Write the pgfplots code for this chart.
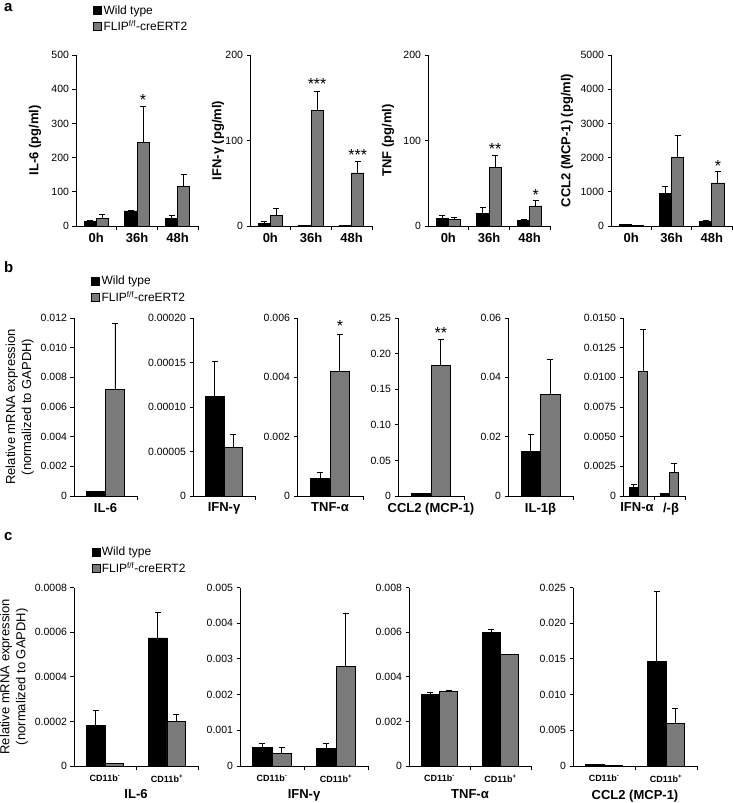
\documentclass[border=0pt]{standalone}
\usepackage{pgfplots}
\pgfplotsset{compat=1.18}
\usepackage{fontspec}
\setmainfont{Liberation Sans}
\definecolor{fgray}{RGB}{122,122,122}
\newcommand{\fs}[1]{\fontsize{#1}{#1}\selectfont}
\tikzset{sig/.style={font=\fs{16}, inner sep=0pt, yshift=-2.5pt}}
\pgfplotsset{
  myax/.style={
    scale only axis,
    axis x line*=bottom, axis y line*=left,
    axis line style={line width=0.9pt,-},
    ybar=0pt, bar width=0.3,
    ymin=0, xmin=-0.5,
    scaled y ticks=false,
    tick align=outside,
    major tick length=3.5pt,
    tick style={line width=0.9pt,black},
    xticklabel={\mbox{}},
    extra x tick style={major tick length=0pt},
    y tick label style={font=\fs{10.5}},
    x tick label style={font=\fs{13}\bfseries, yshift=-3.5pt},
    ylabel style={font=\fs{13}\bfseries},
    xlabel style={font=\fs{13}\bfseries},
    clip=false,
    legend image code/.code={\fill[##1] (0pt,-4pt) rectangle (8pt,4pt);},
    legend cell align=left,
    legend style={draw=none, fill=none, font=\fs{12}, inner sep=0pt, row sep=2pt, nodes={inner sep=1.5pt}},
  },
  ylab/.style={ylabel style={at={(axis description cs:#1,0.5)}, anchor=center, rotate=0}},
  cax/.style={x tick label style={font=\fs{9}\bfseries, yshift=-2pt}, xlabel style={yshift=3pt}},
  eb/.style={error bars/.cd, y dir=plus, y explicit, error bar style={line width=0.9pt,black}, error mark options={rotate=90,mark size=3pt,line width=0.9pt,black}},
  wt/.style={fill=black, draw=black, line width=0.8pt, eb},
  fl/.style={fill=fgray, draw=black, line width=0.8pt, eb},
}
\begin{document}
\begin{tikzpicture}
\path[use as bounding box] (0,0) rectangle (733pt,-803pt);
\node[font=\fs{15}\bfseries, anchor=north west, inner sep=0pt] at (4pt,-3pt) {a};
\node[font=\fs{15}\bfseries, anchor=north west, inner sep=0pt] at (4pt,-261pt) {b};
\node[font=\fs{15}\bfseries, anchor=north west, inner sep=0pt] at (4pt,-532pt) {c};

% ---------------- panel a ----------------
\begin{axis}[myax, at={(76pt,-226pt)}, anchor=south west, width=122pt, height=171pt,
  xmax=2.5, ymax=500, ytick={0,100,200,300,400,500}, yticklabels={0,100,200,300,400,500},
  xtick={0.5,1.5,2.5}, extra x ticks={0,1,2}, extra x tick labels={0h,36h,48h},
  ylabel={IL-6 (pg/ml)}, ylab=-0.336,
  legend style={at={(0.14,1.30)}, anchor=north west}]
\addplot[wt] coordinates {(0,12) +- (0,4) (1,44) +- (0,2) (2,22) +- (0,10)};
\addplot[fl] coordinates {(0,23) +- (0,12) (1,243) +- (0,106) (2,116) +- (0,35)};
\legend{Wild type, FLIP\textsuperscript{f/f}-creERT2}
\node[sig] at (axis cs:1.15,377) {*};
\end{axis}

\begin{axis}[myax, at={(250pt,-226pt)}, anchor=south west, width=122pt, height=171pt,
  xmax=2.5, ymax=200, ytick={0,100,200}, yticklabels={0,100,200},
  xtick={0.5,1.5,2.5}, extra x ticks={0,1,2}, extra x tick labels={0h,36h,48h},
  ylabel={IFN-γ (pg/ml)}, ylab=-0.262]
\addplot[wt] coordinates {(0,3.5) +- (0,2) (1,0.6) +- (0,0) (2,0.6) +- (0,0)};
\addplot[fl] coordinates {(0,12.5) +- (0,8) (1,135) +- (0,22) (2,62) +- (0,13)};
\node[sig] at (axis cs:1.15,169) {***};
\node[sig] at (axis cs:2.15,86) {***};
\end{axis}

\begin{axis}[myax, at={(428pt,-226pt)}, anchor=south west, width=122pt, height=171pt,
  xmax=2.5, ymax=200, ytick={0,100,200}, yticklabels={0,100,200},
  xtick={0.5,1.5,2.5}, extra x ticks={0,1,2}, extra x tick labels={0h,36h,48h},
  ylabel={TNF (pg/ml)}, ylab=-0.328]
\addplot[wt] coordinates {(0,8.5) +- (0,4) (1,15) +- (0,7) (2,6.5) +- (0,1.5)};
\addplot[fl] coordinates {(0,8) +- (0,1.5) (1,69) +- (0,14) (2,23.5) +- (0,6)};
\node[sig] at (axis cs:1.15,93) {**};
\node[sig] at (axis cs:2.15,39) {*};
\end{axis}

\begin{axis}[myax, at={(611pt,-226pt)}, anchor=south west, width=121pt, height=171pt,
  xmax=2.5, ymax=5000, ytick={0,1000,2000,3000,4000,5000}, yticklabels={0,1000,2000,3000,4000,5000},
  xtick={0.5,1.5,2.5}, extra x ticks={0,1,2}, extra x tick labels={0h,36h,48h},
  ylabel={CCL2 (MCP-1) (pg/ml)}, ylab=-0.364]
\addplot[wt] coordinates {(0,50) +- (0,10) (1,950) +- (0,200) (2,130) +- (0,25)};
\addplot[fl] coordinates {(0,20) +- (0,5) (1,2010) +- (0,630) (2,1260) +- (0,330)};
\node[sig] at (axis cs:2.15,1840) {*};
\end{axis}

% ---------------- panel b ----------------
\begin{axis}[myax, at={(74pt,-496pt)}, anchor=south west, width=63pt, height=178pt,
  xmax=0.5, ymax=0.012, ytick={0,0.002,0.004,0.006,0.008,0.010,0.012},
  yticklabels={0,0.002,0.004,0.006,0.008,0.010,0.012},
  xtick={0.5}, extra x ticks={0}, extra x tick labels={IL-6},
  ylabel={Relative mRNA expression\\(normalized to GAPDH)},
  ylabel style={font=\fontsize{13}{16}\selectfont, align=center},
  legend style={at={(0.27,1.245)}, anchor=north west}]
\addplot[wt] coordinates {(0,0.0003) +- (0,0.00003)};
\addplot[fl] coordinates {(0,0.0072) +- (0,0.00446)};
\legend{Wild type, FLIP\textsuperscript{f/f}-creERT2}
\end{axis}

\begin{axis}[myax, at={(193pt,-496pt)}, anchor=south west, width=62pt, height=178pt,
  xmax=0.5, ymax=0.0002, ytick={0,0.00005,0.0001,0.00015,0.0002},
  yticklabels={0,0.00005,0.00010,0.00015,0.00020},
  xtick={0.5}, extra x ticks={0}, extra x tick labels={IFN-γ}]
\addplot[wt] coordinates {(0,0.000112) +- (0,0.000039)};
\addplot[fl] coordinates {(0,0.000055) +- (0,0.0000145)};
\end{axis}

\begin{axis}[myax, at={(297pt,-496pt)}, anchor=south west, width=66pt, height=178pt,
  xmax=0.5, ymax=0.006, ytick={0,0.002,0.004,0.006},
  yticklabels={0,0.002,0.004,0.006},
  xtick={0.5}, extra x ticks={0}, extra x tick labels={TNF-α}]
\addplot[wt] coordinates {(0,0.00059) +- (0,0.0002)};
\addplot[fl] coordinates {(0,0.0042) +- (0,0.00125)};
\node[sig] at (axis cs:0.15,0.0058) {*};
\end{axis}

\begin{axis}[myax, at={(398pt,-496pt)}, anchor=south west, width=66pt, height=178pt,
  xmax=0.5, ymax=0.25, ytick={0,0.05,0.1,0.15,0.2,0.25},
  yticklabels={0,0.05,0.10,0.15,0.20,0.25},
  xtick={0.5}, extra x ticks={0}, extra x tick labels={CCL2 (MCP-1)}]
\addplot[wt] coordinates {(0,0.0035) +- (0,0.0005)};
\addplot[fl] coordinates {(0,0.184) +- (0,0.036)};
\node[sig] at (axis cs:0.15,0.232) {**};
\end{axis}

\begin{axis}[myax, at={(508pt,-496pt)}, anchor=south west, width=65pt, height=178pt,
  xmax=0.5, ymax=0.06, ytick={0,0.02,0.04,0.06},
  yticklabels={0,0.02,0.04,0.06},
  xtick={0.5}, extra x ticks={0}, extra x tick labels={IL-1β}]
\addplot[wt] coordinates {(0,0.015) +- (0,0.0058)};
\addplot[fl] coordinates {(0,0.0343) +- (0,0.0116)};
\end{axis}

\begin{axis}[myax, at={(623pt,-496pt)}, anchor=south west, width=62pt, height=178pt,
  xmax=1.5, ymax=0.015, ytick={0,0.0025,0.005,0.0075,0.01,0.0125,0.015},
  yticklabels={0,0.0025,0.0050,0.0075,0.0100,0.0125,0.0150},
  xtick={0.5,1.5}, extra x ticks={-0.05,1.05}, extra x tick labels={IFN-α,/-β}]
\addplot[wt] coordinates {(0,0.0007) +- (0,0.0003) (1,0.0002) +- (0,0.00005)};
\addplot[fl] coordinates {(0,0.0105) +- (0,0.0035) (1,0.002) +- (0,0.00075)};
\end{axis}

% ---------------- panel c ----------------
\begin{axis}[myax, cax, at={(74pt,-766pt)}, anchor=south west, width=124pt, height=178.5pt,
  xmax=1.5, ymax=0.0008, ytick={0,0.0002,0.0004,0.0006,0.0008},
  yticklabels={0,0.0002,0.0004,0.0006,0.0008},
  xtick={0.5,1.5}, extra x ticks={0,1}, extra x tick labels={CD11b\textsuperscript{-},CD11b\textsuperscript{+}},
  xlabel={IL-6},
  ylabel={Relative mRNA expression\\(normalized to GAPDH)},
  ylabel style={font=\fontsize{13}{16}\selectfont, align=center},
  legend style={at={(0.14,1.235)}, anchor=north west}]
\addplot[wt] coordinates {(0,0.00018) +- (0,0.00007) (1,0.000574) +- (0,0.000113)};
\addplot[fl] coordinates {(0,0.00001) +- (0,0.000003) (1,0.0002) +- (0,0.000032)};
\legend{Wild type, FLIP\textsuperscript{f/f}-creERT2}
\end{axis}

\begin{axis}[myax, cax, at={(240pt,-766pt)}, anchor=south west, width=128pt, height=178.5pt,
  xmax=1.5, ymax=0.005, ytick={0,0.001,0.002,0.003,0.004,0.005},
  yticklabels={0,0.001,0.002,0.003,0.004,0.005},
  xtick={0.5,1.5}, extra x ticks={0,1}, extra x tick labels={CD11b\textsuperscript{-},CD11b\textsuperscript{+}},
  xlabel={IFN-γ}]
\addplot[wt] coordinates {(0,0.00053) +- (0,0.00011) (1,0.00049) +- (0,0.00015)};
\addplot[fl] coordinates {(0,0.00036) +- (0,0.00015) (1,0.0028) +- (0,0.00147)};
\end{axis}

\begin{axis}[myax, cax, at={(409pt,-766pt)}, anchor=south west, width=122pt, height=178.5pt,
  xmax=1.5, ymax=0.008, ytick={0,0.002,0.004,0.006,0.008},
  yticklabels={0,0.002,0.004,0.006,0.008},
  xtick={0.5,1.5}, extra x ticks={0,1}, extra x tick labels={CD11b\textsuperscript{-},CD11b\textsuperscript{+}},
  xlabel={TNF-α}]
\addplot[wt] coordinates {(0,0.00322) +- (0,0.00006) (1,0.006) +- (0,0.00012)};
\addplot[fl] coordinates {(0,0.00336) +- (0,0.00001) (1,0.005) +- (0,0.00002)};
\end{axis}

\begin{axis}[myax, cax, at={(573pt,-766pt)}, anchor=south west, width=124pt, height=178.5pt,
  xmax=1.5, ymax=0.025, ytick={0,0.005,0.01,0.015,0.02,0.025},
  yticklabels={0,0.005,0.010,0.015,0.020,0.025},
  xtick={0.5,1.5}, extra x ticks={0,1}, extra x tick labels={CD11b\textsuperscript{-},CD11b\textsuperscript{+}},
  xlabel={CCL2 (MCP-1)}]
\addplot[wt] coordinates {(0,0.0002) +- (0,0.00005) (1,0.0146) +- (0,0.0098)};
\addplot[fl] coordinates {(0,0.00005) +- (0,0.00001) (1,0.006) +- (0,0.0021)};
\end{axis}
\end{tikzpicture}
\end{document}
